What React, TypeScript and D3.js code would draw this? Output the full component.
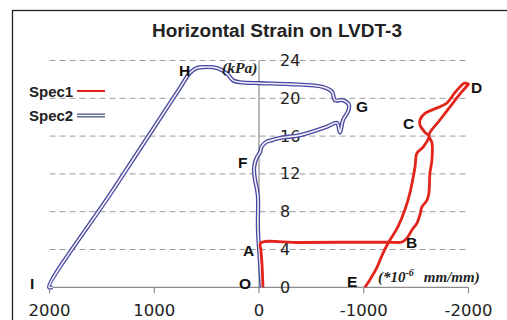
import React from "react";
import * as d3 from "d3";

const title = "Horizontal Strain on LVDT-3";
const xTicks = [2000, 1000, 0, -1000, -2000];
const yTicks = [0, 4, 8, 12, 16, 20, 24];
const gridTicks = [4, 8, 12, 16, 20, 24];

// Spec1 (red) strain (x 10^-6 mm/mm) vs stress (kPa)
const spec1X = [-38, -29, -19, -16, -391, -1231, -1365, -1412, -1460, -1508, -1536, -1555, -1603, -1622, -1632, -1651, -1651, -1622, -1727, -1851, -1937, -1985, -2000, -1960, -1918, -1870, -1794, -1660, -1584, -1536, -1536, -1584, -1622, -1565, -1508, -1489, -1441, -1393, -1326, -1250, -1183, -1126, -1059, -1011];
const spec1Y = [0, 2.4, 3.9, 4.68, 4.74, 4.79, 4.79, 5.2, 6.06, 6.8, 7.65, 8.5, 9.2, 9.98, 12.1, 13.5, 15.3, 16.1, 17.7, 19.5, 20.7, 21.3, 21.5, 21.6, 21.2, 20.6, 19.5, 18.8, 18.4, 17.7, 17.2, 16.4, 16.0, 14.8, 14.2, 12.7, 10.0, 8.2, 6.4, 5.0, 3.6, 2.1, 0.8, 0];

// Spec2 (blue)
const spec2X = [-26, -10, 10, 10, 22, 38, 48, 38, 22, -10, -26, -73, -134, -200, -391, -649, -744, -773, -802, -849, -859, -802, -725, -697, -611, -296, -10, 181, 248, 305, 401, 534, 592, 658, 754, 1393, 2004, 1970];
const spec2Y = [0, 2.6, 6.1, 9.6, 10.5, 11.4, 12.4, 13.2, 13.7, 14.3, 14.9, 15.4, 15.6, 15.8, 16.1, 17.0, 17.4, 16.4, 17.7, 18.6, 19.3, 19.8, 19.8, 20.7, 21.2, 21.5, 21.6, 21.7, 21.9, 22.6, 23.2, 23.3, 23.2, 22.7, 21.1, 10.3, 0, 0];

const pointLabels = ["H", "F", "A", "O", "I", "E", "B", "C", "D", "G"];
const pointLabelPos: [number, number][] = [
  [179, 76], [238, 168], [243, 256], [239, 289], [30, 289],
  [347, 287], [406, 248], [403, 129], [471, 93], [356, 112],
];

const W = 507;
const H = 320;

export default function App() {
  const x = d3.scaleLinear().domain([2000, -2000]).range([49.5, 468.5]);
  const y = d3.scaleLinear().domain([0, 24]).range([287.3, 60.5]);

  const line = d3
    .line<[number, number]>()
    .x((d) => x(d[0]))
    .y((d) => y(d[1]))
    .curve(d3.curveCatmullRom.alpha(0.5));

  const s1 = spec1X.map((v, i) => [v, spec1Y[i]] as [number, number]);
  const s2 = spec2X.map((v, i) => [v, spec2Y[i]] as [number, number]);

  const red = "#e3241b";
  const blueOuter = "#4a46a0";
  const blueInner = "#f2f2fa";
  const axisGray = "#8c8c8c";

  return (
    <svg
      width={W}
      height={H}
      style={{ position: "absolute", left: 0, top: 0, background: "#fff" }}
    >
      <rect x={0} y={0} width={W} height={H} fill="#fff" />
      {/* frame */}
      <rect x={12.5} y={10.5} width={W} height={H} fill="none" stroke="#222" strokeWidth={1.3} />

      {/* title */}
      <text
        x={277}
        y={37}
        textAnchor="middle"
        fontFamily="'Liberation Sans', Arial, sans-serif"
        fontWeight="bold"
        fontSize={17.5}
        fill="#222"
        textLength={250}
        lengthAdjust="spacingAndGlyphs"
      >
        {title}
      </text>

      {/* grid */}
      {gridTicks.map((t) => (
        <line
          key={t}
          x1={x(2000)}
          x2={x(-2000)}
          y1={y(t)}
          y2={y(t)}
          stroke="#9a9a9a"
          strokeWidth={1}
          strokeDasharray="6,4"
        />
      ))}

      {/* x axis */}
      <line x1={x(2000)} x2={x(-2000)} y1={y(0)} y2={y(0)} stroke={axisGray} strokeWidth={1.2} />
      {xTicks.map((t) => (
        <g key={t}>
          <line x1={x(t)} x2={x(t)} y1={y(0)} y2={y(0) + 6} stroke={axisGray} strokeWidth={1.2} />
          <text
            x={x(t)}
            y={316}
            textAnchor="middle"
            fontFamily="'DejaVu Sans', sans-serif"
            fontSize={16.5}
            fill="#222"
          >
            {String(t)}
          </text>
        </g>
      ))}

      {/* y axis */}
      <line x1={x(0)} x2={x(0)} y1={y(24)} y2={y(0)} stroke={axisGray} strokeWidth={1.2} />
      {yTicks.map((t) => (
        <text
          key={t}
          x={280}
          y={y(t) + 5.5}
          fontFamily="'DejaVu Sans', sans-serif"
          fontSize={16}
          fill="#222"
        >
          {t}
        </text>
      ))}

      {/* Spec2 double line */}
      <path d={line(s2) || ""} fill="none" stroke={blueOuter} strokeWidth={4.2} strokeLinejoin="round" />
      <path d={line(s2) || ""} fill="none" stroke={blueInner} strokeWidth={1.6} strokeLinejoin="round" />

      {/* Spec1 */}
      <path d={line(s1) || ""} fill="none" stroke={red} strokeWidth={2.8} strokeLinejoin="round" />

      {/* legend */}
      <text x={29} y={97} fontFamily="'Liberation Sans', Arial, sans-serif" fontWeight="bold" fontSize={15} fill="#222">
        Spec1
      </text>
      <line x1={77} x2={105} y1={91} y2={91} stroke={red} strokeWidth={2} />
      <text x={29} y={121} fontFamily="'Liberation Sans', Arial, sans-serif" fontWeight="bold" fontSize={15} fill="#222">
        Spec2
      </text>
      <line x1={77} x2={105} y1={115.5} y2={115.5} stroke="#4d5a7e" strokeWidth={4} />
      <line x1={77} x2={105} y1={115.5} y2={115.5} stroke="#fff" strokeWidth={1.3} />

      {/* point labels */}
      {pointLabels.map((l, i) => (
        <text
          key={l}
          x={pointLabelPos[i][0]}
          y={pointLabelPos[i][1]}
          fontFamily="'Liberation Sans', Arial, sans-serif"
          fontWeight="bold"
          fontSize={15.5}
          fill="#111"
        >
          {l}
        </text>
      ))}

      {/* units */}
      <text
        x={222}
        y={73}
        fontFamily="'Liberation Serif', 'Times New Roman', serif"
        fontStyle="italic"
        fontWeight="bold"
        fontSize={15.5}
        fill="#222"
      >
        (kPa)
      </text>
      <text
        x={378}
        y={282}
        fontFamily="'Liberation Serif', 'Times New Roman', serif"
        fontStyle="italic"
        fontWeight="bold"
        fontSize={15}
        fill="#222"
      >
        (*10
        <tspan dy={-6} fontSize={10}>-6</tspan>
        <tspan dy={6} dx={10}>mm/mm)</tspan>
      </text>
    </svg>
  );
}
